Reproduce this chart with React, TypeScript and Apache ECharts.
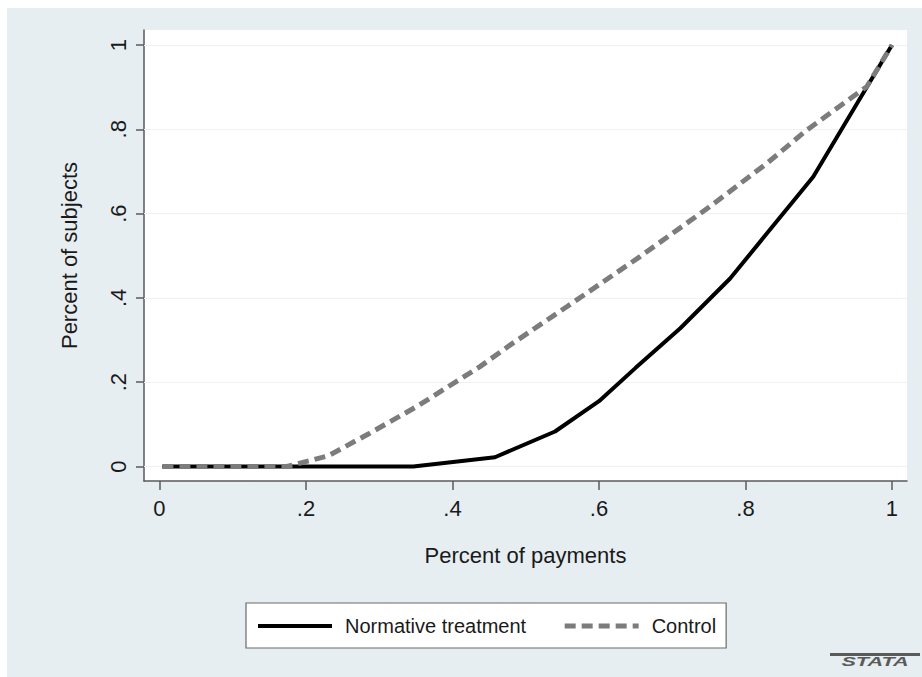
import React, { useEffect, useRef } from "react";
import * as echarts from "echarts";

const seriesNames = ["Normative treatment", "Control"];
const treatX = [0.004, 0.1, 0.2, 0.3465, 0.458, 0.54, 0.6, 0.65, 0.711, 0.779, 0.8925, 1];
const treatY = [0, 0, 0, 0, 0.022, 0.083, 0.155, 0.234, 0.328, 0.446, 0.6875, 1];
const controlX = [0.004, 0.1, 0.174, 0.23, 0.287, 0.351, 0.4375, 0.4785, 0.556, 0.656, 0.75, 0.829, 0.8835, 0.9655, 1];
const controlY = [0, 0, 0, 0.025, 0.079, 0.142, 0.237, 0.288, 0.379, 0.498, 0.615, 0.719, 0.798, 0.901, 1];
const tickValues = [0, 0.2, 0.4, 0.6, 0.8, 1];
const xTitle = "Percent of payments";
const yTitle = "Percent of subjects";

const fmt = (v: number) => {
  if (Math.abs(v) < 1e-9) return "0";
  if (Math.abs(v - 1) < 1e-9) return "1";
  return "." + Math.round(v * 10);
};

const FONT = "'Liberation Sans', Arial, Helvetica, sans-serif";
const DASH = [11, 6];

export default function App() {
  const ref = useRef<HTMLDivElement>(null);
  useEffect(() => {
    if (!ref.current) return;
    const chart = echarts.init(ref.current, null, { renderer: "svg" });
    const treat = treatX.map((x, i) => [x, treatY[i]]);
    const control = controlX.map((x, i) => [x, controlY[i]]);
    chart.setOption({
      animation: false,
      backgroundColor: "#ffffff",
      textStyle: { fontFamily: FONT },
      grid: { left: 144, top: 30, width: 763, height: 451, show: true, backgroundColor: "#ffffff", borderWidth: 0 },
      xAxis: {
        type: "value",
        min: -0.02116,
        max: 1.0205,
        axisLine: { show: true, onZero: false, lineStyle: { color: "#5a5a5a", width: 1.5 } },
        axisTick: { show: true, length: 9, customValues: tickValues, lineStyle: { color: "#5a5a5a", width: 1.5 } },
        axisLabel: {
          customValues: tickValues,
          formatter: fmt,
          margin: 16,
          fontSize: 22,
          color: "#1a1a1a",
          fontFamily: FONT,
        },
        splitLine: { show: false },
      },
      yAxis: {
        type: "value",
        min: -0.0344,
        max: 1.0356,
        axisLine: { show: true, onZero: false, lineStyle: { color: "#5a5a5a", width: 1.5 } },
        axisTick: { show: true, length: 8, customValues: tickValues, lineStyle: { color: "#5a5a5a", width: 1.5 } },
        axisLabel: {
          customValues: tickValues,
          formatter: fmt,
          rotate: 90,
          margin: 15,
          fontSize: 22,
          color: "#1a1a1a",
          fontFamily: FONT,
        },
        splitLine: { show: false },
      },
      legend: {
        show: true,
        left: 246,
        top: 603,
        orient: "horizontal",
        backgroundColor: "#ffffff",
        borderColor: "#6a6a6a",
        borderWidth: 1.2,
        padding: [13, 10, 12, 10],
        itemWidth: 74,
        itemHeight: 20,
        itemGap: 36,
        itemStyle: { opacity: 0 },
        textStyle: { fontSize: 20, color: "#1a1a1a", fontFamily: FONT, padding: [0, 0, 0, 8] },
        data: [
          { name: seriesNames[0], itemStyle: { opacity: 0 }, lineStyle: { color: "#000000", width: 4, type: "solid" } },
          { name: seriesNames[1], itemStyle: { opacity: 0 }, lineStyle: { color: "#7c7c7c", width: 5, type: DASH } },
        ],
      },
      series: [
        {
          name: seriesNames[0],
          type: "line",
          data: treat,
          symbol: "none",
          lineStyle: { color: "#000000", width: 4 },
          itemStyle: { color: "#000000" },
          markLine: {
            silent: true,
            symbol: "none",
            label: { show: false },
            lineStyle: { color: "#edf2f4", width: 1.2, type: "solid" },
            data: tickValues.map((v) => ({ yAxis: v })),
            z: 1,
          },
          z: 2,
        },
        {
          name: seriesNames[1],
          type: "line",
          data: control,
          symbol: "none",
          lineStyle: { color: "#7c7c7c", width: 5, type: DASH },
          itemStyle: { color: "#7c7c7c" },
          z: 3,
        },
      ],
      graphic: [
        { type: "rect", z: -10, shape: { x: 7, y: 8, width: 915, height: 669 }, style: { fill: "#e7eef1" }, silent: true },
        {
          type: "text",
          x: 525.5,
          y: 555,
          style: { text: xTitle, fontSize: 22, fill: "#1a1a1a", fontFamily: FONT, align: "center", verticalAlign: "middle" },
        },
        {
          type: "text",
          x: 69,
          y: 255.5,
          rotation: Math.PI / 2,
          style: { text: yTitle, fontSize: 22, fill: "#1a1a1a", fontFamily: FONT, align: "center", verticalAlign: "middle" },
        },
        { type: "rect", shape: { x: 830, y: 653, width: 90, height: 3 }, style: { fill: "#5a5a5a" } },
        {
          type: "text",
          x: 875,
          y: 662,
          scaleX: 1.8,
          style: { text: "STATA", fontSize: 12, fontWeight: "bold", fontStyle: "italic", fill: "#5a5a5a", fontFamily: FONT, align: "center", verticalAlign: "middle" },
        },
      ],
    });
    return () => chart.dispose();
  }, []);
  return <div ref={ref} style={{ position: "fixed", left: 0, top: 0, width: 922, height: 677 }} />;
}
